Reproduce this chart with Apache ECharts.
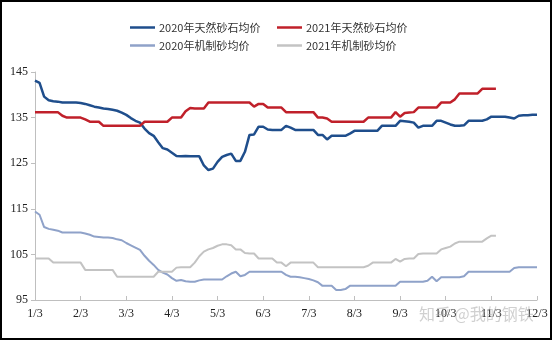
<!DOCTYPE html>
<html><head><meta charset="utf-8">
<script src="https://cdn.jsdelivr.net/npm/echarts@6/dist/echarts.min.js"></script>
<style>html,body{margin:0;padding:0;background:#fff}#c{width:554px;height:341px}</style>
</head><body><div id="c"></div>
<script>
// month tick labels (10 samples per month)
const monthLabels = ['1/3','2/3','3/3','4/3','5/3','6/3','7/3','8/3','9/3','10/3','11/3','12/3'];
const stepsPerMonth = 10;
const seriesNames = ['2020年天然砂石均价','2021年天然砂石均价','2020年机制砂均价','2021年机制砂均价'];

const nat2020 = [143.1,142.6,139.6,138.8,138.6,138.5,138.3,138.3,138.3,138.3,
 138.2,138.0,137.7,137.4,137.2,137.0,136.9,136.7,136.5,136.1,
 135.6,134.9,134.3,133.9,132.6,131.6,131.0,129.6,128.3,128.0,
 127.3,126.6,126.5,126.6,126.5,126.5,126.5,124.5,123.5,123.8,
 125.3,126.4,126.8,127.1,125.5,125.5,127.5,131.2,131.3,133.0,
 133.0,132.4,132.3,132.3,132.3,133.2,132.8,132.3,132.3,132.3,
 132.3,132.3,131.2,131.2,130.2,131.0,131.0,131.0,131.0,131.5,
 132.1,132.1,132.1,132.1,132.1,132.1,133.2,133.2,133.2,133.2,
 134.3,134.2,134.1,133.9,132.8,133.2,133.2,133.2,134.3,134.3,
 133.9,133.5,133.2,133.2,133.3,134.3,134.3,134.3,134.3,134.6,
 135.2,135.2,135.2,135.2,135.0,134.8,135.4,135.5,135.5,135.6,135.6];

const nat2021 = [136.2,136.2,136.2,136.2,136.2,136.2,135.4,135.0,135.0,135.0,
 135.0,134.6,134.1,134.1,134.1,133.2,133.2,133.2,133.2,133.2,
 133.2,133.2,133.2,133.2,134.1,134.1,134.1,134.1,134.1,134.1,
 135.0,135.0,135.0,136.4,137.1,137.0,137.0,137.0,138.3,138.3,
 138.3,138.3,138.3,138.3,138.3,138.3,138.3,138.3,137.4,138.0,
 138.0,137.2,137.2,137.2,137.2,136.2,136.2,136.2,136.2,136.2,
 136.2,136.2,135.0,135.0,134.8,134.1,134.1,134.1,134.1,134.1,
 134.1,134.1,134.1,135.0,135.0,135.0,135.0,135.0,135.0,136.2,
 135.2,136.0,136.1,136.2,137.2,137.2,137.2,137.2,137.2,138.3,
 138.3,138.3,139.0,140.3,140.3,140.3,140.3,140.3,141.3,141.3,
 141.3,141.3];

const mach2020 = [114.4,113.7,111.0,110.6,110.4,110.2,109.8,109.8,109.8,109.8,
 109.8,109.6,109.3,108.9,108.8,108.7,108.7,108.6,108.3,108.1,
 107.5,107.0,106.5,106.0,104.7,103.6,102.7,101.6,101.0,100.6,
 99.8,99.2,99.4,99.1,99.0,99.0,99.3,99.5,99.5,99.5,
 99.5,99.5,100.2,100.8,101.2,100.2,100.5,101.2,101.2,101.2,
 101.2,101.2,101.2,101.2,101.2,100.5,100.1,100.1,100.0,99.8,
 99.6,99.3,98.9,98.1,98.1,98.1,97.2,97.2,97.4,98.1,
 98.1,98.1,98.1,98.1,98.1,98.1,98.1,98.1,98.1,98.1,
 99.0,99.0,99.0,99.0,99.0,99.0,99.2,100.1,99.1,100.0,
 100.0,100.0,100.0,100.0,100.2,101.2,101.2,101.2,101.2,101.2,
 101.2,101.2,101.2,101.2,101.2,102.0,102.2,102.2,102.2,102.2,102.2];

const mach2021 = [104.1,104.1,104.1,104.1,103.2,103.2,103.2,103.2,103.2,103.2,
 103.2,101.6,101.6,101.6,101.6,101.6,101.6,101.6,100.1,100.1,
 100.1,100.1,100.1,100.1,100.1,100.1,100.1,101.2,101.2,101.2,
 101.2,102.1,102.2,102.2,102.2,103.2,104.6,105.6,106.1,106.4,
 106.9,107.2,107.2,107.0,106.1,106.1,105.3,105.2,105.2,104.1,
 104.1,104.1,104.1,103.2,103.2,102.4,103.2,103.2,103.2,103.2,
 103.2,103.2,102.2,102.2,102.2,102.2,102.2,102.2,102.2,102.2,
 102.2,102.2,102.2,102.5,103.2,103.2,103.2,103.2,103.2,104.0,
 103.4,104.0,104.1,104.1,105.1,105.2,105.2,105.2,105.2,106.1,
 106.4,106.7,107.4,107.8,107.8,107.8,107.8,107.8,107.8,108.5,
 109.1,109.1];

const yMin = 95, yMax = 145, yStep = 10;

const categories = [];
for (let m = 0; m < monthLabels.length; m++) {
  const n = (m === monthLabels.length - 1) ? 1 : stepsPerMonth;
  for (let k = 0; k < n; k++) categories.push(monthLabels[m] + '#' + k);
}

const colors = ['#1f4e8c', '#c0202a', '#8fa2c9', '#c3c3c3'];
const widths = [2.5, 2.5, 2, 2];
const datas = [nat2020, nat2021, mach2020, mach2021];

const legendCommon = {
  orient: 'vertical', top: 17, icon: 'rect',
  itemWidth: 25, itemHeight: 2.5, itemGap: 7,
  textStyle: {fontFamily: 'Noto Sans CJK SC', fontSize: 11, color: '#333', padding: [0, 0, 0, -1]}
};

const chart = echarts.init(document.getElementById('c'), null, {renderer: 'canvas'});
chart.setOption({
  animation: false,
  backgroundColor: '#fff',
  color: colors,
  grid: {left: 35, right: 17, top: 72, bottom: 41, containLabel: false},
  legend: [
    Object.assign({data: [seriesNames[0], seriesNames[2]], left: 125}, legendCommon),
    Object.assign({data: [seriesNames[1], seriesNames[3]], left: 272}, legendCommon)
  ],
  xAxis: {
    type: 'category', data: categories, boundaryGap: false,
    axisLine: {lineStyle: {color: '#bfbfbf', width: 1}},
    axisTick: {inside: true, length: 4, interval: (i) => i % stepsPerMonth === 0, lineStyle: {color: '#bfbfbf'}},
    axisLabel: {interval: (i) => i % stepsPerMonth === 0, margin: 8,
      formatter: (v, i) => monthLabels[Math.round(i / stepsPerMonth)],
      fontFamily: 'Liberation Serif', fontSize: 12, color: '#222'},
    splitLine: {show: false}
  },
  yAxis: {
    type: 'value', min: yMin, max: yMax, interval: yStep,
    axisLine: {show: true, lineStyle: {color: '#bfbfbf', width: 1}},
    axisTick: {show: true, length: 4, lineStyle: {color: '#bfbfbf'}},
    axisLabel: {margin: 7, fontFamily: 'Liberation Serif', fontSize: 12, color: '#222'},
    splitLine: {show: false}
  },
  series: datas.map((d, i) => ({
    name: seriesNames[i], type: 'line', data: d, symbol: 'none',
    lineStyle: {width: widths[i], color: colors[i]}, itemStyle: {color: colors[i]},
    z: i < 2 ? 3 : 2
  })),
  graphic: [
    {type: 'rect', shape: {x: 1, y: 1, width: 550, height: 338}, style: {fill: 'none', stroke: '#000', lineWidth: 2}, z: 100},
    {type: 'text', left: 419, top: 306, style: {text: '知乎 @我的钢铁', fontFamily: 'Noto Sans CJK SC', fontSize: 16, fill: 'rgba(170,170,170,0.55)'}, z: 100}
  ]
});
</script></body></html>
